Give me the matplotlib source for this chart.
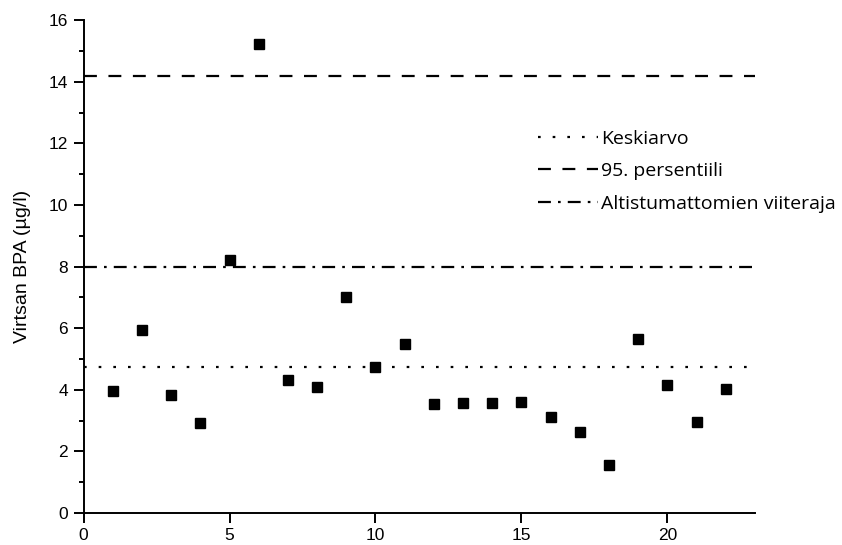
import matplotlib
matplotlib.use("Agg")
import matplotlib.pyplot as plt
import numpy as np
from matplotlib.ticker import MultipleLocator

# sample number and urinary BPA concentration
samples = list(range(1, 23))
bpa = [3.96, 5.94, 3.83, 2.92, 8.21, 15.23, 4.32, 4.09, 7.01, 4.74, 5.49,
       3.54, 3.58, 3.56, 3.61, 3.13, 2.64, 1.56, 5.65, 4.15, 2.95, 4.04]

percentile_95 = 14.2
reference_limit = 8.0
mean_value = np.mean(bpa)

line_labels = ["Keskiarvo", "95. persentiili", "Altistumattomien viiteraja"]

plt.rcParams['font.family'] = ['Liberation Sans', 'DejaVu Sans']

fig = plt.figure(figsize=(8.42, 5.45), dpi=100)
ax = fig.add_axes([0.0992, 0.0587, 0.7975, 0.9043])

ax.plot(samples, bpa, 's', color='black', markersize=7.5, zorder=3)

lw = 1.6
ax.axhline(mean_value, color='black', lw=lw, dashes=(1.2, 5.4), label=line_labels[0])
ax.axhline(percentile_95, color='black', lw=lw, dashes=(5.8, 5.2), label=line_labels[1])
ax.axhline(reference_limit, color='black', lw=lw, dashes=(5.8, 3.2, 1.2, 3.2), label=line_labels[2])

ax.set_xlim(0, 23)
ax.set_ylim(0, 16)
ax.set_xticks([0, 5, 10, 15, 20])
ax.set_yticks(range(0, 17, 2))
ax.yaxis.set_minor_locator(MultipleLocator(1))

for side in ('top', 'right'):
    ax.spines[side].set_visible(False)
for side in ('left', 'bottom'):
    ax.spines[side].set_linewidth(1.4)

ax.tick_params(which='major', direction='out', length=7, width=1.4, labelsize=12.5, pad=4)
ax.tick_params(which='minor', direction='out', length=3.8, width=1.4)

ax.set_ylabel("Virtsan BPA (µg/l)", fontsize=14, labelpad=13)

ax.legend(loc='upper left', bbox_to_anchor=(0.639, 0.762), bbox_transform=fig.transFigure,
          frameon=False, borderpad=0, borderaxespad=0,
          handlelength=3.1, handletextpad=0.15, labelspacing=0.75,
          prop={'family': 'Open Sans', 'size': 14})

fig.savefig("out.png", dpi=100)
